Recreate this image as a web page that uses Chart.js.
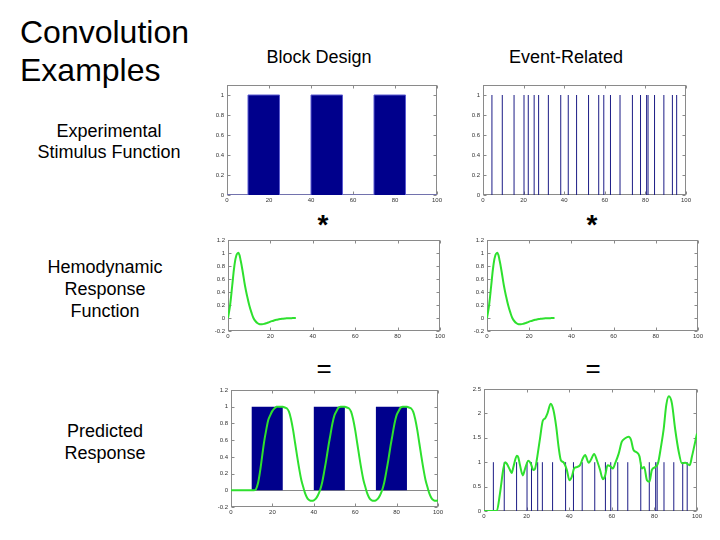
<!DOCTYPE html>
<html><head><meta charset="utf-8">
<script src="https://cdn.jsdelivr.net/npm/chart.js@4"></script>
<style>
body{margin:0;width:720px;height:540px;background:#fff;position:relative;overflow:hidden;font-family:"Liberation Sans",Arial,sans-serif;}
.t{position:absolute;color:#000;white-space:nowrap;text-align:center;width:200px;}
canvas{position:absolute;}
</style></head><body>
<div class="t" style="left:20px;top:13px;font-size:32px;line-height:38px;text-align:left;width:auto">Convolution<br>Examples</div>
<div class="t" style="left:219px;top:46px;font-size:18px;line-height:22px">Block Design</div>
<div class="t" style="left:466px;top:46px;font-size:18px;line-height:22px">Event-Related</div>
<div class="t" style="left:9px;top:121px;font-size:18px;line-height:21px">Experimental<br>Stimulus Function</div>
<div class="t" style="left:5px;top:256px;font-size:18px;line-height:22px">Hemodynamic<br>Response<br>Function</div>
<div class="t" style="left:5px;top:420px;font-size:18px;line-height:22px">Predicted<br>Response</div>
<div class="t" style="left:223px;top:211px;font-size:28px;line-height:28px;font-weight:bold">*</div>
<div class="t" style="left:492px;top:211px;font-size:28px;line-height:28px;font-weight:bold">*</div>
<div class="t" style="left:224px;top:355px;font-size:26px;line-height:26px">=</div>
<div class="t" style="left:493px;top:355px;font-size:26px;line-height:26px">=</div>

<canvas id="c1"></canvas><canvas id="c2"></canvas>
<canvas id="c3"></canvas><canvas id="c4"></canvas>
<canvas id="c5"></canvas><canvas id="c6"></canvas>
<script>
// ---------------- data ----------------
const xTicksMax = 100;
const blockX = [0, 10, 25, 40, 55, 70, 85, 100];
const blockY = [0, 1, 0, 1, 0, 1, 0, 0];
const eventTimes = [4.4, 9.5, 15.3, 20.2, 22.3, 25.2, 27.4, 32.2, 38.3, 42, 46.1, 52, 57, 59.5, 62.8, 67.5, 73.6, 77.6, 80.6, 81.3, 84.5, 89.1, 93.3, 95.4];
const hrfX = [0,1,2,3,4,5,6,7,8,9,10,11,12,13,14,15,16,17,18,19,20,21,22,23,24,25,26,27,28,29,30,31,32];
const hrfY = [0,0.2,0.5,0.8,0.97,1.0,0.88,0.7,0.5,0.34,0.2,0.09,0.0,-0.05,-0.08,-0.095,-0.095,-0.09,-0.08,-0.07,-0.055,-0.045,-0.035,-0.027,-0.02,-0.015,-0.01,-0.007,-0.005,-0.003,-0.002,-0.001,0];
const predBlockY = [0,0,0,0,0,0,0,0,0,0,0,
 0,0.01,0.08,0.22,0.4,0.58,0.72,0.84,0.9,0.95,
 0.98,1.0,1.0,1.0,1.0,0.99,0.98,0.94,0.85,0.72,
 0.56,0.4,0.25,0.12,0.03,-0.05,-0.1,-0.12,-0.125,-0.12,
 -0.1,-0.06,0.0,0.09,0.22,0.36,0.52,0.66,0.8,0.9,
 0.95,0.99,1.0,1.0,1.0,0.99,0.98,0.94,0.85,0.72,
 0.56,0.4,0.25,0.12,0.03,-0.05,-0.1,-0.12,-0.125,-0.12,
 -0.1,-0.06,0.0,0.09,0.22,0.36,0.52,0.66,0.8,0.9,
 0.95,0.99,1.0,1.0,1.0,0.99,0.98,0.94,0.85,0.72,
 0.56,0.4,0.25,0.12,0.03,-0.05,-0.1,-0.12,-0.125,-0.12];
const predEventX = [0,6,7.5,9.1,9.9,10.7,12.2,13,13.8,15.4,16.1,16.9,18.2,19.3,20.8,21.9,23.2,24,24.8,26.3,27.6,28.7,29.8,31.3,32.6,33.9,35,36.1,37.3,38.9,40.1,41.2,42.3,43.6,45.1,46.4,47.5,49.1,50.2,51.7,53,54.5,55.8,56.9,58,59.2,60.5,61.6,63.2,64.7,66.3,67.9,69,70.2,71.8,73,74.1,75.2,76.5,77.7,78.8,80.4,81.7,83.1,84.3,85.6,86.8,88.2,89.8,91.4,92.9,94.5,96.6,97.6,100];
const predEventY = [0,0,0.36,0.87,1.0,0.97,0.84,0.78,0.9,1.13,1.1,0.94,0.73,0.87,1.03,0.98,0.84,0.87,1.05,1.49,1.85,1.9,2.0,2.2,2.07,1.73,1.32,1.04,1.0,0.84,0.63,0.7,0.87,0.9,0.94,1.08,1.15,0.99,1.05,1.17,1.04,0.84,0.65,0.73,0.94,0.92,0.87,0.98,1.17,1.42,1.49,1.52,1.46,1.25,1.2,1.12,0.87,0.9,0.63,0.6,0.84,0.9,0.98,1.32,1.66,2.18,2.35,2.21,1.66,1.22,0.98,0.99,0.94,1.11,1.59];

// ---------------- styling ----------------
const NAVY = '#00008c';
const GREEN = '#2ee02e';
const FONT = '"Liberation Sans", Arial, sans-serif';
const WY = 24, PT = 8, PR = 10, HX = 14;

const zip = (xs, ys) => xs.map((x, i) => ({x, y: ys[i]}));
const blockPts = zip(blockX, blockY);
const eventPts = [];
eventTimes.forEach(t => { eventPts.push({x:t,y:0},{x:t,y:1},{x:t,y:null}); });
const fmt = v => { const r = Math.round(v * 100) / 100; return String(r === 0 ? 0 : r); };

const boxPlugin = {
  id: 'box',
  beforeDatasetsDraw(chart, args, opts) {
    const {ctx, chartArea: a, scales: {x, y}} = chart;
    ctx.save();
    ctx.strokeStyle = '#8a8a8a'; ctx.lineWidth = 1;
    const l = Math.round(a.left) + 0.5, r = Math.round(a.right) - 0.5;
    const t = Math.round(a.top) + 0.5, b = Math.round(a.bottom) - 0.5;
    ctx.strokeRect(l, t, r - l, b - t);
    ctx.beginPath();
    x.ticks.forEach(tk => { const p = Math.round(x.getPixelForValue(tk.value)) + 0.5;
      ctx.moveTo(p, b); ctx.lineTo(p, b - 3); ctx.moveTo(p, t); ctx.lineTo(p, t + 3); });
    y.ticks.forEach(tk => { const p = Math.round(y.getPixelForValue(tk.value)) + 0.5;
      ctx.moveTo(l, p); ctx.lineTo(l + 3, p); ctx.moveTo(r, p); ctx.lineTo(r - 3, p); });
    if (opts && opts.zero) {
      const p = Math.round(y.getPixelForValue(0)) + 0.5;
      ctx.moveTo(l, p); ctx.lineTo(r, p);
    }
    ctx.stroke();
    ctx.restore();
  }
};

function make(id, area, yMin, yMax, yStep, datasets, zero) {
  const [L, R, T, B] = area;
  const cv = document.getElementById(id);
  const w = WY + (R - L) + PR, h = PT + (B - T) + HX;
  cv.width = w; cv.height = h;
  cv.style.left = (L - WY) + 'px'; cv.style.top = (T - PT) + 'px';
  cv.style.width = w + 'px'; cv.style.height = h + 'px';
  const tickFont = {size: 6, family: FONT};
  new Chart(cv, {
    type: 'line',
    data: {datasets},
    options: {
      responsive: false, animation: false, devicePixelRatio: 1, events: [],
      layout: {padding: {top: PT, right: PR, left: 0, bottom: 0}},
      plugins: {legend: {display: false}, tooltip: {enabled: false}, box: {zero: !!zero}},
      elements: {point: {radius: 0}},
      scales: {
        x: {type: 'linear', min: 0, max: xTicksMax,
            ticks: {stepSize: 20, font: tickFont, color: '#333', padding: 2, maxRotation: 0, callback: fmt},
            grid: {display: false, drawTicks: false}, border: {display: false},
            afterFit(s) { s.height = HX; }},
        y: {type: 'linear', min: yMin, max: yMax,
            ticks: {stepSize: yStep, includeBounds: false, font: tickFont, color: '#333', padding: 3, callback: fmt},
            grid: {display: false, drawTicks: false}, border: {display: false},
            afterFit(s) { s.width = WY; }}
      }
    },
    plugins: [boxPlugin]
  });
}

const blockDs = (bw) => ({data: blockPts, stepped: true, fill: 'origin', backgroundColor: NAVY,
  borderColor: '#5a5ad0', borderWidth: bw, pointRadius: 0});
const eventDs = () => ({data: eventPts, spanGaps: false, borderColor: '#1c1c86', borderWidth: 1, pointRadius: 0, fill: false});
const greenDs = (pts, extra) => Object.assign({data: pts, borderColor: GREEN, borderWidth: 2, pointRadius: 0, fill: false}, extra);

make('c1', [227, 437, 85, 195], 0, 1.1, 0.2, [blockDs(1)]);
make('c2', [483, 686, 85, 195], 0, 1.1, 0.2, [eventDs()]);
make('c3', [228, 440, 240, 331], -0.2, 1.2, 0.2, [greenDs(zip(hrfX, hrfY), {tension: 0.4})]);
make('c4', [487, 698, 240, 331], -0.2, 1.2, 0.2, [greenDs(zip(hrfX, hrfY), {tension: 0.4})]);
make('c5', [231, 438, 390, 507], -0.2, 1.2, 0.2,
  [greenDs(predBlockY.map((y, i) => ({x: i, y})), {tension: 0.3}), blockDs(0)], true);
make('c6', [484, 697, 389, 511], 0, 2.5, 0.5,
  [greenDs(zip(predEventX, predEventY), {cubicInterpolationMode: 'monotone'}), eventDs()]);
</script>
</body></html>
